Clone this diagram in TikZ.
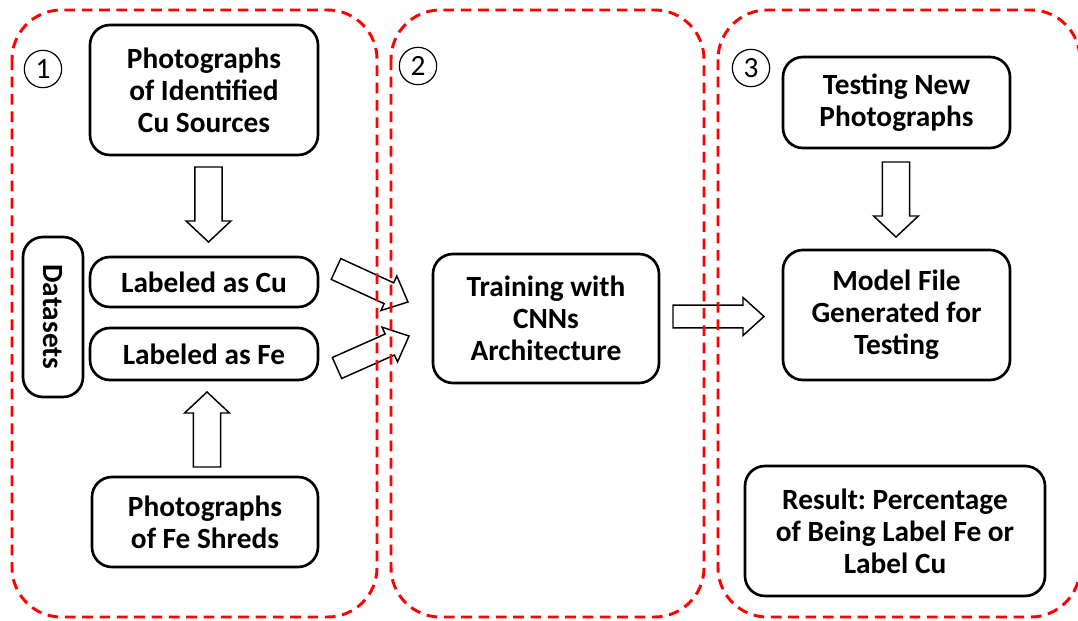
\documentclass[tikz,border=0pt]{standalone}
\usepackage{fontspec}
\setmainfont{Carlito}
\usetikzlibrary{calc}
\frenchspacing

% block arrow from tail to tip, optional width factor
\newcommand\fatarrow[3][1]{%
  \draw[blk] let \p1=($(#3)-(#2)$), \n1={atan2(\y1,\x1)}, \n2={veclen(\x1,\y1)-15.75pt},
      \n3={8.6pt*#1}, \n4={14.25pt*#1} in
    ($(#2)+(\n1+90:\n3)$) -- ($(#2)+(\n1:\n2)+(\n1+90:\n3)$)
    -- ($(#2)+(\n1:\n2)+(\n1+90:\n4)$) -- (#3)
    -- ($(#2)+(\n1:\n2)+(\n1-90:\n4)$) -- ($(#2)+(\n1:\n2)+(\n1-90:\n3)$)
    -- ($(#2)+(\n1-90:\n3)$) -- cycle;}

\begin{document}
\begin{tikzpicture}[x=0.75pt,y=-0.75pt,
  box/.style={draw,line width=2pt,rounded corners=15pt,align=center,fill=white,inner sep=0pt,
    font={\bfseries\fontsize{22}{24}\selectfont}},
  num/.style={circle,draw,line width=0.9pt,minimum size=28pt,inner sep=0pt,
    font={\fontsize{22}{22}\selectfont}},
  blk/.style={draw,line width=1.1pt,fill=white,line join=miter},
  panel/.style={draw=red,line width=2.2pt,dash pattern=on 8pt off 5pt,rounded corners=37pt}]
\useasboundingbox (0,0) rectangle (1078,621);
\clip (0,0) rectangle (1078,621);

% stage 1
\node[num] (n1) at (43,69) {1};
\node[box,minimum width=171pt,minimum height=97.5pt] (photocu) at (204,90) {Photographs\\of Identified\\Cu Sources};
\node[box,minimum width=120pt,minimum height=45pt,rotate=-90] (datasets) at (53,317) {Datasets};
\node[box,minimum width=171pt,minimum height=37.5pt] (labcu) at (204,282) {Labeled as Cu};
\node[box,minimum width=171pt,minimum height=39pt] (labfe) at (204,354) {Labeled as Fe};
\node[box,minimum width=169.5pt,minimum height=67.5pt] (photofe) at (205,522) {Photographs\\of Fe Shreds};

% stage 2
\node[num] (n2) at (418,66) {2};
\node[box,minimum width=169.5pt,minimum height=96.75pt] (train) at (546,318.5) {Training with\\CNNs\\Architecture};

% stage 3
\node[num] (n3) at (751,68) {3};
\node[box,minimum width=170.25pt,minimum height=68.25pt] (testnew) at (896.5,102.5) {Testing New\\Photographs};
\node[box,minimum width=170.25pt,minimum height=97.5pt] (model) at (896.5,315) {Model File\\Generated for\\Testing};
\node[box,minimum width=225pt,minimum height=97.5pt] (result) at (895,531) {Result: Percentage\\of Being Label Fe or\\Label Cu};

% arrow ends
\coordinate (a1s) at (208.5,167); \coordinate (a1e) at (208.5,242);
\coordinate (a2s) at (207,467);   \coordinate (a2e) at (207,392);
\coordinate (a3s) at (336,269);   \coordinate (a3e) at (408,302);
\coordinate (a4s) at (337,368);   \coordinate (a4e) at (409,336);
\coordinate (a5s) at (673,316.5); \coordinate (a5e) at (764,316.5);
\coordinate (a6s) at (896,162);   \coordinate (a6e) at (896,237);

\fatarrow[1.18]{a1s}{a1e}
\fatarrow[1.18]{a2s}{a2e}
\fatarrow{a3s}{a3e}
\fatarrow{a4s}{a4e}
\fatarrow{a5s}{a5e}
\fatarrow[1.18]{a6s}{a6e}

% dashed stage frames
\draw[panel] (12,10) rectangle (377,617);
\draw[panel] (391,10) rectangle (704,617);
\draw[panel] (718,10) rectangle (1080,617);
\end{tikzpicture}
\end{document}
